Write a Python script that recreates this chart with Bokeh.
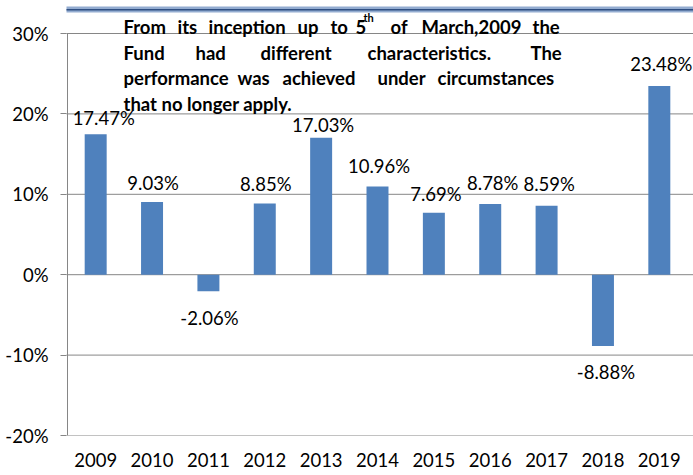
from bokeh.plotting import figure
from bokeh.models import ColumnDataSource, Range1d, FixedTicker, Label, BoxAnnotation, PrintfTickFormatter
from bokeh.embed import file_html
from bokeh.resources import INLINE
from bokeh.core.properties import value

# ---------------- data ----------------
years = ["2009", "2010", "2011", "2012", "2013", "2014", "2015", "2016", "2017", "2018", "2019"]
returns = [17.47, 9.03, -2.06, 8.85, 17.03, 10.96, 7.69, 8.78, 8.59, -8.88, 23.48]
y_ticks = [-20, -10, 0, 10, 20, 30]

# label placement (pixel offsets from bar end)
label_dx = [8, 1, 1, 1, 2, 1.5, 2, 2.5, 2.5, 3, 2]
label_dy = [-16, -19, 27, -20, -13, -21, -19, -21, -22, 26, -22]

# note text: words with their left edge (page px) per line
note_line1 = [("From", 123), ("its", 177), ("inception", 208), ("up", 297), ("to", 330),
              ("5", 355), ("of", 390), ("March,2009", 421), ("the", 532)]
note_sup = [("th", 363)]
note_line2 = [("Fund", 123), ("had", 195), ("different", 260), ("characteristics.", 367), ("The", 530)]
note_line3 = [("performance", 123), ("was", 237), ("achieved", 282), ("under", 377), ("circumstances", 437)]
note_line4 = [("that no longer apply.", 123)]
note_baselines = [26, 52, 77, 103]

# ---------------- layout ----------------
W, H = 693, 475
ML, MR, MT, MB = 66, 0, 0, 40
Y0, Y_TOP = -20, 30
AX_X = 67          # page x of the value axis
TOP_PX = 33        # page y of the 30% line
BOT_PX = H - MB    # page y of the -20% line
N = len(years)
PX_PER_Y = (BOT_PX - TOP_PX) / (Y_TOP - Y0)
PX_PER_X = 620 / N


def px_x(page_x):
    return (page_x - AX_X) / PX_PER_X


def px_y(page_y):
    return Y_TOP - (page_y - TOP_PX) / PX_PER_Y


FONT = "Lato"
BAR = "#4F81BD"
GRID = "#868686"

p = figure(width=W, height=H, output_backend="svg", toolbar_location=None,
           x_range=Range1d(px_x(ML), px_x(W - MR)), y_range=Range1d(Y0, px_y(MT)),
           min_border_left=ML, min_border_right=MR, min_border_top=MT, min_border_bottom=MB)
p.outline_line_color = None
p.background_fill_color = "white"
p.border_fill_color = "white"

xs = [i + 0.5 for i in range(N)]
labels = [f"{v:.2f}%" for v in returns]
src = ColumnDataSource(dict(x=xs, top=returns, lab=labels, dx=label_dx, dy=label_dy))

# gridlines only over the value span
p.ygrid.grid_line_color = None
p.xgrid.grid_line_color = None
p.segment(x0=[px_x(60)] * len(y_ticks), y0=y_ticks, x1=[px_x(W + 5)] * len(y_ticks), y1=y_ticks,
          line_color=GRID, line_width=1)
# value axis line
p.segment(x0=[0], y0=[Y0], x1=[0], y1=[Y_TOP], line_color=GRID, line_width=1)

p.vbar(x="x", top="top", bottom=0, width=0.39, source=src, fill_color=BAR, line_color=None)
p.text(x="x", y="top", text="lab", x_offset="dx", y_offset="dy", source=src,
       text_align="center", text_baseline="middle", text_font=value(FONT),
       text_font_size="18.5px", text_color="#000000")

# axes
p.yaxis.ticker = FixedTicker(ticks=y_ticks)
p.yaxis.formatter = PrintfTickFormatter(format="%d%%")
p.yaxis.axis_line_color = None
p.yaxis.major_tick_line_color = GRID
p.yaxis.minor_tick_line_color = None
p.yaxis.major_tick_out = 6
p.yaxis.major_tick_in = 0
p.yaxis.major_label_standoff = 12
p.yaxis.major_label_text_font = FONT
p.yaxis.major_label_text_font_size = "18.5px"
p.yaxis.major_label_text_color = "#000000"

p.xaxis.ticker = FixedTicker(ticks=xs)
p.xaxis.major_label_overrides = {x: y for x, y in zip(xs, years)}
p.xaxis.axis_line_color = None
p.xaxis.major_tick_line_color = None
p.xaxis.minor_tick_line_color = None
p.xaxis.major_tick_out = 0
p.xaxis.major_label_standoff = 17
p.xaxis.major_label_text_font = FONT
p.xaxis.major_label_text_font_size = "18.5px"
p.xaxis.major_label_text_color = "#000000"

# top decorative double rule
p.add_layout(BoxAnnotation(left=px_x(26), right=px_x(W + 10), top=px_y(6), bottom=px_y(12),
                           fill_color="#93acd0", fill_alpha=1, line_color=None))
p.add_layout(BoxAnnotation(left=px_x(26), right=px_x(W + 10), top=px_y(8.5), bottom=px_y(10),
                           fill_color="#2f4f82", fill_alpha=1, line_color=None))

# note text
for words, base in zip([note_line1, note_line2, note_line3, note_line4], note_baselines):
    for w, lx in words:
        p.add_layout(Label(x=px_x(lx), y=px_y(base), text=w, text_font=FONT,
                           text_font_style="bold", text_font_size="18.5px",
                           text_baseline="alphabetic", text_align="left", text_color="#000000"))
for w, lx in note_sup:
    p.add_layout(Label(x=px_x(lx), y=px_y(note_baselines[0] - 9), text=w, text_font=FONT,
                       text_font_style="bold", text_font_size="11px",
                       text_baseline="alphabetic", text_align="left", text_color="#000000"))

open("out.html", "w").write(file_html(p, INLINE))
